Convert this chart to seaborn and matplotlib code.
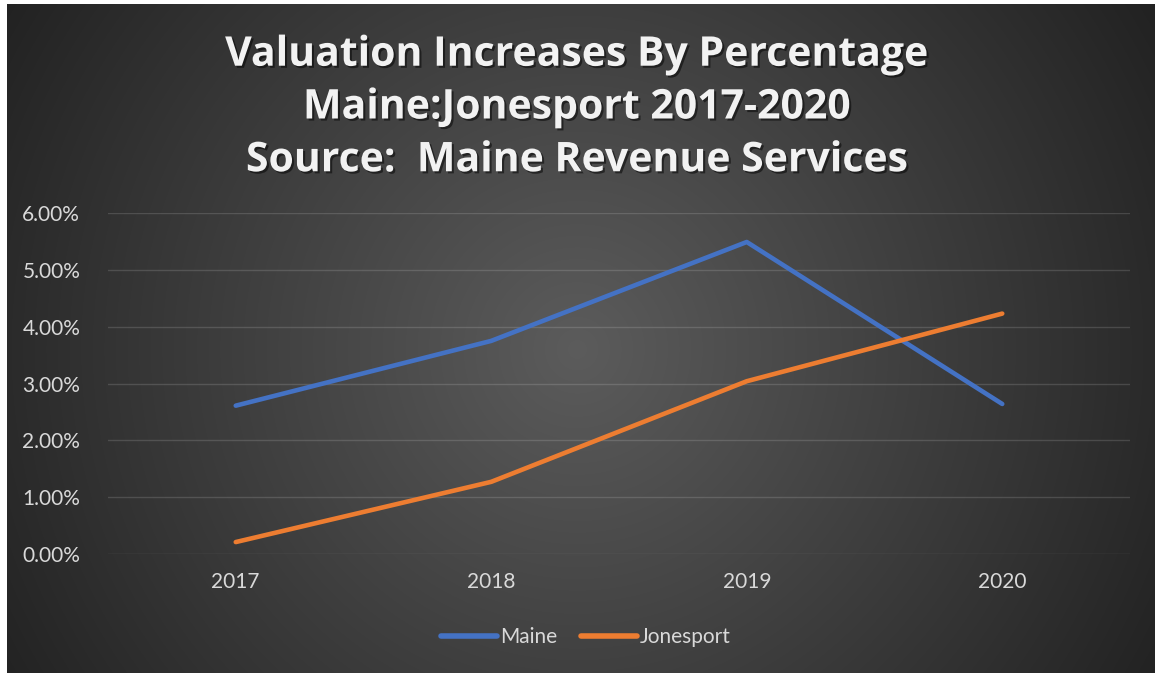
import numpy as np
import pandas as pd
import seaborn as sns
import matplotlib.pyplot as plt
import matplotlib.patheffects as pe
from matplotlib.ticker import PercentFormatter

# Data (percent)
years = ['2017', '2018', '2019', '2020']
maine = [2.61, 3.75, 5.49, 2.64]
jonesport = [0.21, 1.27, 3.04, 4.23]

df = pd.DataFrame({
    'year': years * 2,
    'pct': maine + jonesport,
    'region': ['Maine'] * len(years) + ['Jonesport'] * len(years),
})

palette = {'Maine': '#4472C4', 'Jonesport': '#ED7D31'}
txt = '#d9d9d9'

plt.rcParams['font.family'] = ['Lato', 'DejaVu Sans']

fig = plt.figure(figsize=(11.55, 6.73), dpi=100)
fig.patch.set_facecolor('white')

# radial gradient background
W, H = 1148, 669
bg = fig.add_axes([7 / 1155, 0, W / 1155, H / 673], zorder=0)
yy, xx = np.mgrid[0:H, 0:W]
r = np.sqrt((xx - 570) ** 2 + (yy - 345) ** 2) / 680
g = np.clip(0.36 - 0.23 * r, 0, 1)
bg.imshow(np.dstack([g, g, g]), aspect='auto', extent=[0, 1, 0, 1])
bg.set_axis_off()

ax = fig.add_axes([108 / 1155, 1 - 554 / 673, (1130 - 108) / 1155, (554 - 213) / 673], zorder=1)
ax.set_facecolor('none')

sns.lineplot(data=df, x='year', y='pct', hue='region', palette=palette,
             linewidth=3.3, sort=False, ax=ax, solid_capstyle='round')

ax.set_xlim(-0.5, 3.5)
ax.set_ylim(0, 6)
ax.set_yticks(np.arange(0, 7, 1))
ax.yaxis.set_major_formatter(PercentFormatter(decimals=2))
ax.set_xlabel('')
ax.set_ylabel('')
for s in ax.spines.values():
    s.set_visible(False)
ax.tick_params(length=0, colors=txt, labelsize=15)
ax.tick_params(axis='y', pad=20)
ax.tick_params(axis='x', pad=13)
ax.yaxis.grid(True, color='white', alpha=0.14, linewidth=1)
ax.xaxis.grid(False)
ax.set_axisbelow(True)

handles, labels = ax.get_legend_handles_labels()
ax.get_legend().remove()
leg = fig.legend(handles, labels, loc='center', bbox_to_anchor=(586 / 1155, 1 - 637 / 673),
                 ncol=2, frameon=False, fontsize=15, handlelength=2.7, handletextpad=0.15,
                 columnspacing=1.1, labelcolor=txt)
for h in leg.get_lines():
    h.set_linewidth(4)
    h.set_solid_capstyle('round')

title = ('Valuation Increases By Percentage\n'
         'Maine:Jonesport 2017-2020\n'
         'Source:  Maine Revenue Services')
fig.text(0.5, 1 - 108 / 673, title, ha='center', va='center', color='#f2f2f2',
         fontsize=29.5, fontweight='bold', linespacing=1.38, family=['Open Sans', 'DejaVu Sans'],
         path_effects=[pe.withSimplePatchShadow(offset=(1.5, -1.5), shadow_rgbFace='black', alpha=0.5)])

fig.savefig('out.png', dpi=100)
